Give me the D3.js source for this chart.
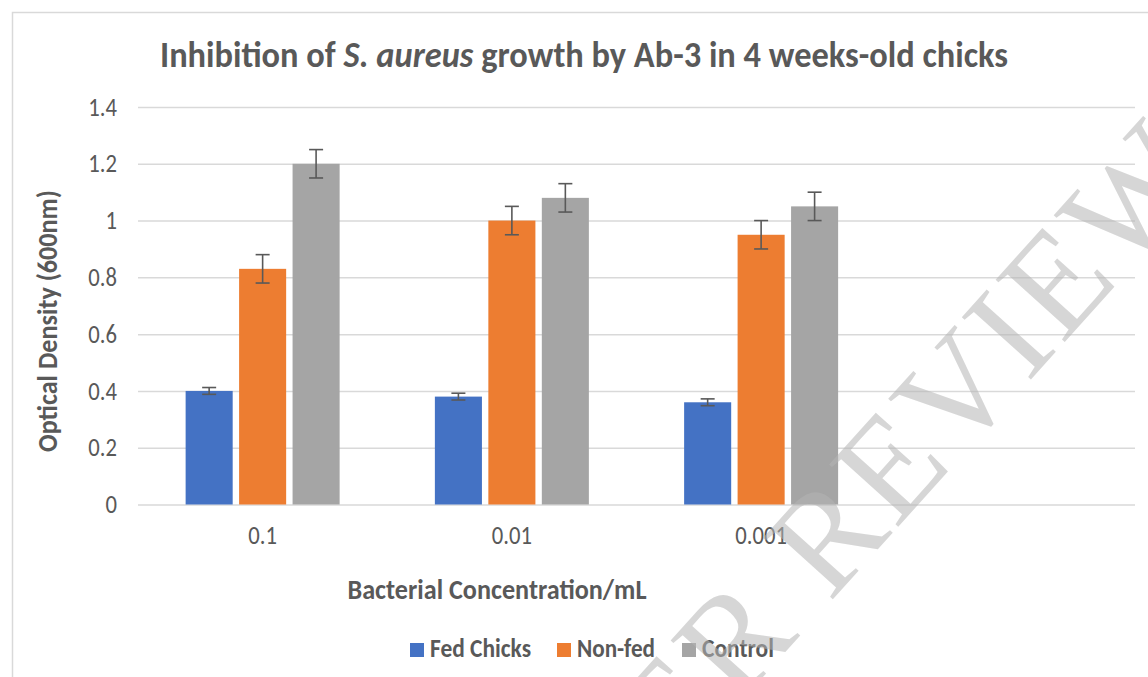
<!DOCTYPE html>
<html>
<head>
<meta charset="utf-8">
<script src="https://cdn.jsdelivr.net/npm/d3@7"></script>
<style>
  body { margin: 0; background: #fff; }
  svg { display: block; }
  text { fill: #595959; }
  .cond { font-family: "Carlito", "Liberation Sans Narrow", "Liberation Sans", sans-serif; font-weight: bold; }
  .tick text { font-family: "Carlito", "Open Sans", sans-serif; font-size: 27px; fill: #595959; }
</style>
</head>
<body>
<script>
// categories and series
var categories = ["0.1", "0.01", "0.001", ""];
var seriesNames = ["Fed Chicks", "Non-fed", "Control"];
var fedChicks = [0.40, 0.38, 0.36];
var nonFed = [0.83, 1.00, 0.95];
var control = [1.20, 1.08, 1.05];
var fedErr = [0.012, 0.012, 0.012];
var nonFedErr = [0.05, 0.05, 0.05];
var controlErr = [0.05, 0.05, 0.05];
var yTicks = [0, 0.2, 0.4, 0.6, 0.8, 1, 1.2, 1.4];
var colors = ["#4472C4", "#ED7D31", "#A5A5A5"];

var width = 1148, height = 677;
var margin = { top: 107, right: 13, bottom: 172, left: 138 };
var squeeze = 0.84; // text in the picture is narrow

var svg = d3.select("body").append("svg")
  .attr("width", width)
  .attr("height", height);

// chart frame
svg.append("rect")
  .attr("x", 12.5).attr("y", 12.5)
  .attr("width", width).attr("height", height)
  .attr("fill", "none")
  .attr("stroke", "#D9D9D9")
  .attr("stroke-width", 1.5);

var x0 = d3.scaleBand()
  .domain(d3.range(categories.length))
  .range([margin.left, width - margin.right]);

var x1 = d3.scaleBand()
  .domain(d3.range(seriesNames.length))
  .range([0, 154])
  .paddingInner(0.12);

var y = d3.scaleLinear()
  .domain([0, 1.4])
  .range([height - margin.bottom - 0.5, margin.top]);

// gridlines + y labels
var yAxis = d3.axisLeft(y)
  .tickValues(yTicks)
  .tickSize(-(width - margin.left - margin.right))
  .tickFormat(d3.format("~g"));

var gy = svg.append("g")
  .attr("transform", "translate(" + margin.left + ",0)")
  .call(yAxis);
gy.select(".domain").remove();
gy.selectAll(".tick line").attr("stroke", "#D9D9D9").attr("stroke-width", 1.5);
gy.selectAll(".tick text")
  .attr("x", -21 / squeeze)
  .attr("dy", "0.3em")
  .attr("transform", "scale(" + squeeze + ",1)");

// x labels
var xAxis = d3.axisBottom(x0)
  .tickFormat(function (i) { return categories[i]; })
  .tickSize(0);
var gx = svg.append("g")
  .attr("transform", "translate(0," + y(0) + ")")
  .call(xAxis);
gx.select(".domain").remove();
gx.selectAll(".tick text")
  .attr("y", 40)
  .attr("dy", 0)
  .attr("transform", "scale(" + squeeze + ",1)");

// bars
var rows = categories.slice(0, 3).map(function (c, i) {
  return {
    cat: i,
    vals: [
      { s: 0, v: fedChicks[i], e: fedErr[i] },
      { s: 1, v: nonFed[i], e: nonFedErr[i] },
      { s: 2, v: control[i], e: controlErr[i] }
    ]
  };
});

var groups = svg.append("g").selectAll("g")
  .data(rows)
  .enter().append("g")
  .attr("transform", function (d) {
    return "translate(" + (x0(d.cat) + x0.bandwidth() / 2 - 77) + ",0)";
  });

groups.selectAll("rect")
  .data(function (d) { return d.vals; })
  .enter().append("rect")
  .attr("x", function (d) { return x1(d.s); })
  .attr("width", x1.bandwidth())
  .attr("y", function (d) { return y(d.v); })
  .attr("height", function (d) { return y(0) - y(d.v); })
  .attr("fill", function (d) { return colors[d.s]; });

// error bars
var err = groups.selectAll("g.err")
  .data(function (d) { return d.vals; })
  .enter().append("g")
  .attr("class", "err")
  .attr("stroke", "#595959")
  .attr("stroke-width", 1.6);

err.append("line")
  .attr("x1", function (d) { return x1(d.s) + x1.bandwidth() / 2; })
  .attr("x2", function (d) { return x1(d.s) + x1.bandwidth() / 2; })
  .attr("y1", function (d) { return y(d.v + d.e); })
  .attr("y2", function (d) { return y(d.v - d.e); });

[1, -1].forEach(function (sign) {
  err.append("line")
    .attr("x1", function (d) { return x1(d.s) + x1.bandwidth() / 2 - 7; })
    .attr("x2", function (d) { return x1(d.s) + x1.bandwidth() / 2 + 7; })
    .attr("y1", function (d) { return y(d.v + sign * d.e); })
    .attr("y2", function (d) { return y(d.v + sign * d.e); });
});

// title
var title = svg.append("text")
  .attr("class", "cond")
  .attr("x", 160).attr("y", 66.5)
  .attr("textLength", 848)
  .attr("lengthAdjust", "spacingAndGlyphs")
  .style("font-size", "37px");
title.append("tspan").text("Inhibition of ");
title.append("tspan").style("font-style", "italic").text("S. aureus");
title.append("tspan").text(" growth by Ab-3 in 4 weeks-old chicks");

// axis titles
svg.append("text")
  .attr("class", "cond")
  .attr("text-anchor", "middle")
  .attr("transform", "translate(57,321) rotate(-90)")
  .attr("textLength", 262)
  .attr("lengthAdjust", "spacingAndGlyphs")
  .style("font-size", "29px")
  .text("Optical Density (600nm)");

svg.append("text")
  .attr("class", "cond")
  .attr("text-anchor", "middle")
  .attr("x", 497).attr("y", 599)
  .attr("textLength", 299)
  .attr("lengthAdjust", "spacingAndGlyphs")
  .style("font-size", "29px")
  .text("Bacterial Concentration/mL");

// legend
var legendX = [410, 557, 682];
var legendW = [101, 78, 72];
var legend = svg.append("g").selectAll("g")
  .data(seriesNames)
  .enter().append("g")
  .attr("transform", function (d, i) { return "translate(" + legendX[i] + ",643)"; });
legend.append("rect")
  .attr("width", 14).attr("height", 14)
  .attr("fill", function (d, i) { return colors[i]; });
legend.append("text")
  .attr("class", "cond")
  .attr("x", 20).attr("y", 14)
  .attr("textLength", function (d, i) { return legendW[i]; })
  .attr("lengthAdjust", "spacingAndGlyphs")
  .style("font-size", "26px")
  .text(function (d) { return d; });

// watermark
svg.append("text")
  .attr("text-anchor", "end")
  .attr("transform", "translate(1215,175) rotate(-48)")
  .style("font-family", "'Liberation Serif', serif")
  .style("font-size", "142px")
  .style("letter-spacing", "4px")
  .style("fill", "#b5b5b5")
  .style("fill-opacity", 0.55)
  .text("UNDER PEER REVIEW");
</script>
</body>
</html>
